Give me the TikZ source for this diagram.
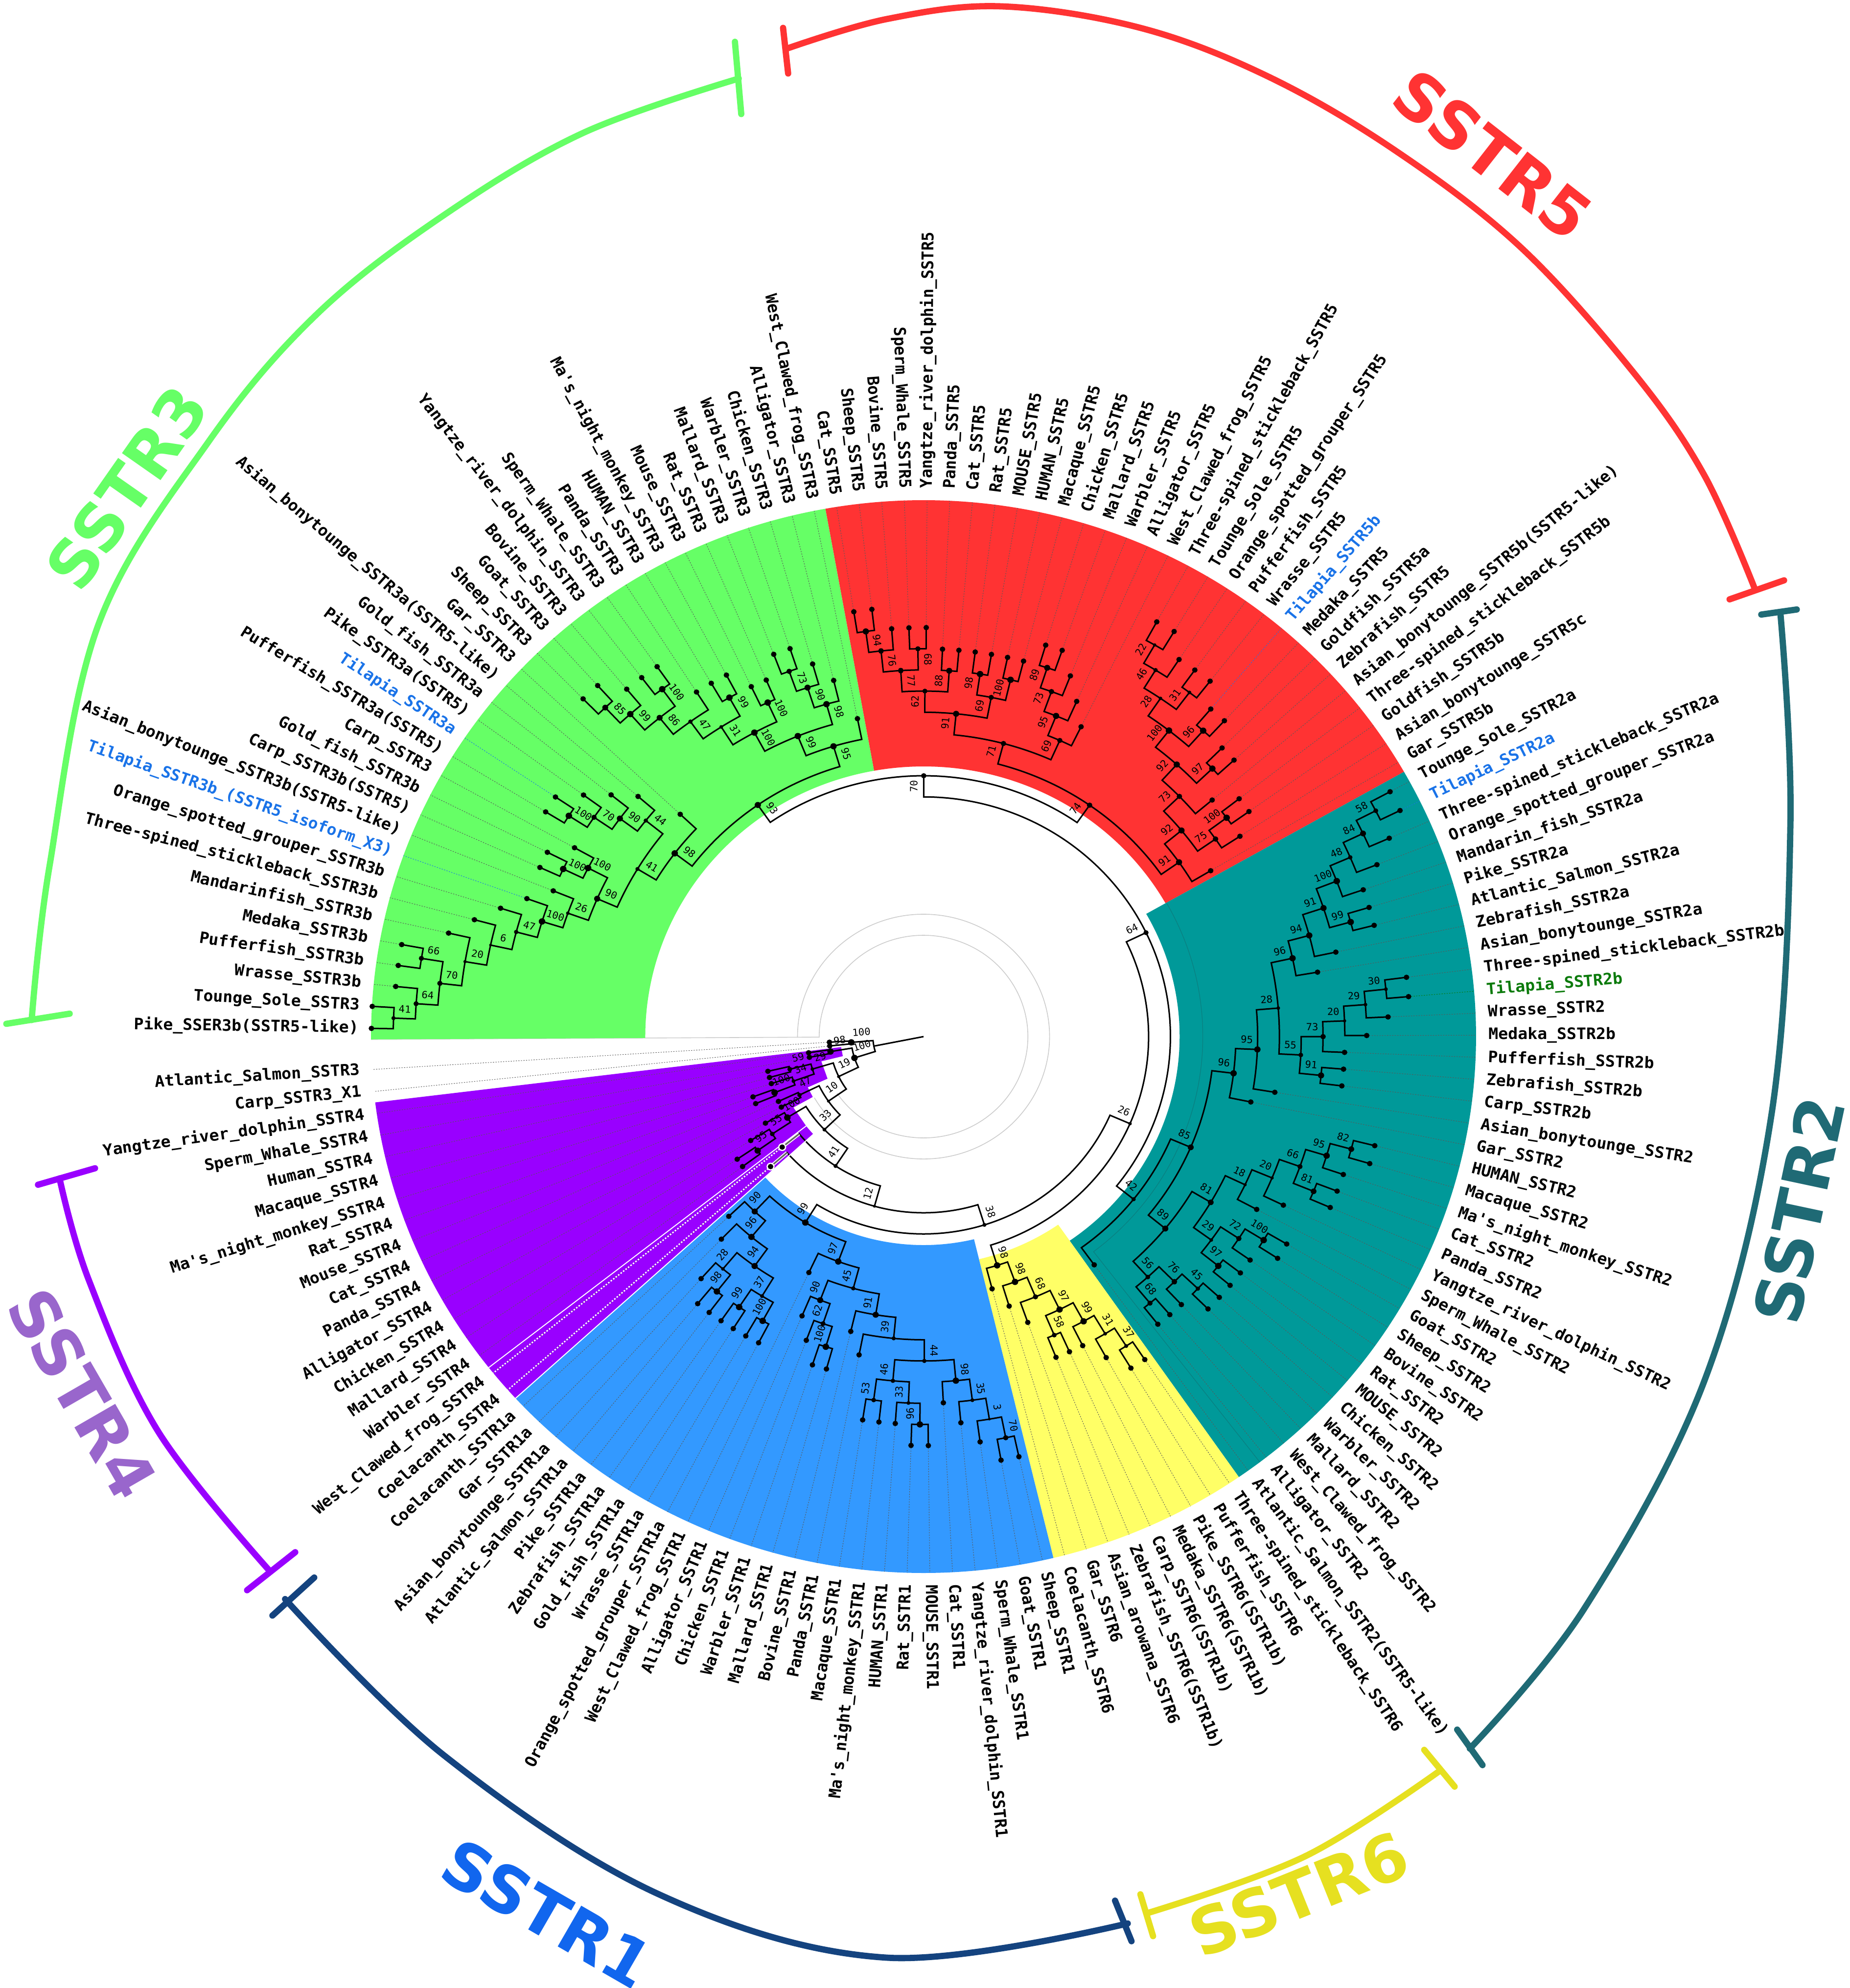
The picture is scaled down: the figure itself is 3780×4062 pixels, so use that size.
\documentclass[tikz,border=0pt]{standalone}
\usepackage{fontspec}
\newfontfamily\monofam{DejaVu Sans Mono}
\newfontfamily\headfam{DejaVu Sans}
\definecolor{fill_three}{HTML}{66FF66}
\definecolor{fill_five}{HTML}{FF3333}
\definecolor{fill_two}{HTML}{009999}
\definecolor{fill_six}{HTML}{FFFF66}
\definecolor{fill_one}{HTML}{3399FF}
\definecolor{fill_four}{HTML}{9900FF}
\definecolor{line_two}{HTML}{1F6A75}
\definecolor{line_six}{HTML}{E6E020}
\definecolor{line_one}{HTML}{14437F}
\definecolor{head_one}{HTML}{1166EE}
\definecolor{head_four}{HTML}{9966CC}
\definecolor{tilapia_blue}{HTML}{1A73E8}
\definecolor{tilapia_green}{HTML}{0B7A0B}
\definecolor{leaf_gray}{gray}{0.35}
\definecolor{ring_gray}{gray}{0.8}
\definecolor{arc_teal}{HTML}{0B7F80}
\def\angstart{180.3}
\def\angstep{2.355}
\def\rzero{100.5}
\def\rstep{43.25}
\def\Rfill{1096}
\def\Rtext{1120}
\expandafter\def\csname leafcol9\endcsname{tilapia_blue}
\expandafter\def\csname leafcol15\endcsname{tilapia_blue}
\expandafter\def\csname leafcol56\endcsname{tilapia_blue}
\expandafter\def\csname leafcol66\endcsname{tilapia_blue}
\expandafter\def\csname leafcol75\endcsname{tilapia_green}
\newcommand{\setrot}[1]{%
	\pgfmathsetmacro\rotval{cos(#1)>=0?#1:#1+180}}
\newcommand{\setleaf}[2]{%
	\ifcsname ang#1\endcsname\else
		\pgfmathsetmacro\aleaf{\angstart-(#1-0.5)*\angstep}%
		\pgfmathsetmacro\rleaf{\rzero+\rstep*(#2+1)}%
		\expandafter\xdef\csname ang#1\endcsname{\aleaf}%
		\coordinate (#1) at (\aleaf:\rleaf);
		\ifcsname leafcol#1\endcsname\edef\lcol{\csname leafcol#1\endcsname}\else\def\lcol{leaf_gray}\fi
		\draw[leaf_style,draw=\lcol] (#1) -- (\aleaf:\Rfill);
		\fill (#1) circle[radius=5.5];
	\fi}
\newcommand{\treenode}[5]{%
	\setleaf{#2}{#4}\setleaf{#3}{#4}%
	\edef\aone{\csname ang#2\endcsname}\edef\atwo{\csname ang#3\endcsname}%
	\pgfmathsetmacro\anode{(\aone+\atwo)/2}%
	\pgfmathsetmacro\rnode{\rzero+\rstep*#4}%
	\pgfmathsetmacro\rmid{\rnode-\rstep/2}%
	\expandafter\xdef\csname ang#1\endcsname{\anode}%
	\coordinate (#1) at (\anode:\rnode);
	\draw[branch_style] (#2) -- (\aone:\rnode) arc[start angle=\aone,end angle=\atwo,radius=\rnode] -- (#3);
	\ifx\relax#5\relax\else
		\fill (#1) circle[radius={2.5+0.04*#5}];
		\setrot{\anode}%
		\node[support_style,rotate=\rotval] (s#1) at (\anode:\rmid) {#5};
	\fi}
\newcommand{\sector}[5]{%
	\fill[#1] (#2:#4) -- (#2:#5) arc[start angle=#2,end angle=#3,radius=#5] -- (#3:#4) arc[start angle=#3,end angle=#2,radius=#4] -- cycle;}
\begin{document}
\begin{tikzpicture}[x=0.25pt,y=0.25pt,
		branch_style/.style={draw=black,line width=0.75pt},
		leaf_style/.style={line width=0.25pt,dash pattern=on 0.6pt off 0.7pt},
		support_style/.style={font=\monofam\fontsize{5}{6}\selectfont,anchor=south,inner sep=2.8pt,transform shape},
		taxon_style/.style={font=\monofam\bfseries\fontsize{8.05}{9}\selectfont,inner sep=0pt,transform shape},
		head_style/.style={font=\headfam\bfseries\fontsize{33}{33}\selectfont,inner sep=0pt},
		bracket_style/.style={line width=3.2pt,line cap=round}]
	\useasboundingbox (0,0) rectangle (3780,-4062);
	\begin{scope}[shift={(1887,-2118)},xscale=1.03]
		\draw[ring_gray,line width=0.4pt] (-150:250) arc[start angle=-150,end angle=180.3,radius=250] -- (180.3:\Rfill);
		\draw[ring_gray,line width=0.4pt] (-146:207) arc[start angle=-146,end angle=180.3,radius=207] -- (180.3:250);
		\sector{fill_three}{180.3}{100.23}{552}{\Rfill}
		\sector{fill_five}{100.23}{29.58}{552}{\Rfill}
		\sector{fill_two}{29.58}{-55.2}{508}{\Rfill}
		\sector{fill_six}{-55.2}{-76.4}{468}{\Rfill}
		\sector{fill_one}{-76.4}{-137.6}{426}{\Rfill}
		\fill[fill_four] (-172.95:\Rfill) -- (-172.5:165) -- (-166:165) -- (-166:209) -- (-155.7:209) -- (-155.7:252) -- (-150.7:252) -- (-150.7:296) -- (-141.9:296) -- (-141.9:\Rfill) arc[start angle=-141.9,end angle=-172.95,radius=\Rfill] -- cycle;
		\sector{fill_four}{-141.9}{-137.6}{296}{\Rfill}
		\draw[arc_teal,line width=0.3pt] (29.4:554) arc[start angle=29.4,end angle=-52.5,radius=554] -- (-52.5:\Rfill);
		\treenode{g1}{1}{2}{22}{41}
		\treenode{g2}{3}{g1}{21}{64}
		\treenode{g3}{4}{5}{21}{66}
		\treenode{g4}{g2}{g3}{20}{70}
		\treenode{g5}{g4}{6}{19}{20}
		\treenode{g6}{g5}{7}{18}{6}
		\treenode{g7}{g6}{8}{17}{47}
		\treenode{g8}{g7}{9}{16}{100}
		\treenode{g9}{g8}{10}{15}{26}
		\treenode{g10}{11}{12}{16}{100}
		\treenode{g11}{g10}{13}{15}{100}
		\treenode{g12}{g9}{g11}{14}{90}
		\treenode{g13}{14}{15}{17}{100}
		\treenode{g14}{g13}{16}{16}{70}
		\treenode{g15}{g14}{17}{15}{90}
		\treenode{g16}{g15}{18}{14}{44}
		\treenode{g17}{g12}{g16}{13}{41}
		\treenode{g18}{g17}{19}{12}{98}
		\treenode{g19}{20}{21}{19}{85}
		\treenode{g20}{g19}{22}{18}{99}
		\treenode{g21}{23}{24}{18}{100}
		\treenode{g22}{g20}{g21}{17}{86}
		\treenode{g23}{g22}{25}{16}{47}
		\treenode{g24}{26}{27}{16}{99}
		\treenode{g25}{g23}{g24}{15}{31}
		\treenode{g26}{28}{29}{15}{100}
		\treenode{g27}{g25}{g26}{14}{100}
		\treenode{g28}{30}{31}{16}{73}
		\treenode{g29}{g28}{32}{15}{90}
		\treenode{g30}{g29}{33}{14}{98}
		\treenode{g31}{g27}{g30}{13}{99}
		\treenode{g32}{g31}{34}{12}{95}
		\treenode{g33}{g18}{g32}{11}{93}
		\treenode{r1}{35}{36}{17}{94}
		\treenode{r2}{r1}{37}{16}{76}
		\treenode{r3}{38}{39}{16}{68}
		\treenode{r4}{r2}{r3}{15}{77}
		\treenode{r5}{40}{41}{15}{88}
		\treenode{r6}{r4}{r5}{14}{62}
		\treenode{r7}{42}{43}{15}{98}
		\treenode{r8}{44}{45}{15}{100}
		\treenode{r9}{r7}{r8}{14}{69}
		\treenode{r10}{r6}{r9}{13}{91}
		\treenode{r11}{46}{47}{16}{89}
		\treenode{r12}{r11}{48}{15}{73}
		\treenode{r13}{r12}{49}{14}{95}
		\treenode{r14}{r13}{50}{13}{69}
		\treenode{r15}{r10}{r14}{12}{71}
		\treenode{r16}{51}{52}{19}{22}
		\treenode{r17}{r16}{53}{18}{46}
		\treenode{r18}{54}{55}{18}{31}
		\treenode{r19}{r17}{r18}{17}{28}
		\treenode{r20}{56}{57}{17}{96}
		\treenode{r21}{r19}{r20}{16}{100}
		\treenode{r22}{58}{59}{16}{97}
		\treenode{r23}{r21}{r22}{15}{92}
		\treenode{r24}{r23}{60}{14}{73}
		\treenode{r25}{61}{62}{15}{100}
		\treenode{r26}{r25}{63}{14}{75}
		\treenode{r27}{r24}{r26}{13}{92}
		\treenode{r28}{r27}{64}{12}{91}
		\treenode{r29}{r15}{r28}{11}{74}
		\treenode{t1}{g33}{r29}{10}{70}
		\treenode{c1}{65}{66}{21}{58}
		\treenode{c2}{c1}{67}{20}{84}
		\treenode{c3}{c2}{68}{19}{48}
		\treenode{c4}{c3}{69}{18}{100}
		\treenode{c5}{70}{71}{18}{99}
		\treenode{c6}{c4}{c5}{17}{91}
		\treenode{c7}{c6}{72}{16}{94}
		\treenode{c8}{c7}{73}{15}{96}
		\treenode{c9}{74}{75}{19}{30}
		\treenode{c10}{c9}{76}{18}{29}
		\treenode{c11}{c10}{77}{17}{20}
		\treenode{c12}{c11}{78}{16}{73}
		\treenode{c13}{79}{80}{16}{91}
		\treenode{c14}{c12}{c13}{15}{55}
		\treenode{c15}{c8}{c14}{14}{28}
		\treenode{c16}{c15}{81}{13}{95}
		\treenode{c17}{c16}{82}{12}{96}
		\treenode{c18}{83}{84}{18}{82}
		\treenode{c19}{c18}{85}{17}{95}
		\treenode{c20}{86}{87}{17}{81}
		\treenode{c21}{c19}{c20}{16}{66}
		\treenode{c22}{c21}{88}{15}{20}
		\treenode{c23}{c22}{89}{14}{18}
		\treenode{c24}{90}{91}{16}{100}
		\treenode{c25}{c24}{92}{15}{72}
		\treenode{c26}{93}{94}{15}{97}
		\treenode{c27}{c25}{c26}{14}{29}
		\treenode{c28}{c23}{c27}{13}{81}
		\treenode{c29}{95}{96}{15}{45}
		\treenode{c30}{c29}{97}{14}{76}
		\treenode{c31}{98}{99}{14}{68}
		\treenode{c32}{c30}{c31}{13}{56}
		\treenode{c33}{c28}{c32}{12}{89}
		\treenode{c34}{c17}{c33}{11}{85}
		\treenode{c35}{c34}{100}{10}{42}
		\treenode{t2}{t1}{c35}{9}{64}
		\treenode{y1}{101}{102}{15}{37}
		\treenode{y2}{y1}{103}{14}{31}
		\treenode{y3}{y2}{104}{13}{99}
		\treenode{y4}{105}{106}{13}{58}
		\treenode{y5}{y3}{y4}{12}{97}
		\treenode{y6}{y5}{107}{11}{68}
		\treenode{y7}{y6}{108}{10}{98}
		\treenode{y8}{y7}{109}{9}{98}
		\treenode{b1}{110}{111}{17}{70}
		\treenode{b2}{b1}{112}{16}{3}
		\treenode{b3}{b2}{113}{15}{35}
		\treenode{b4}{b3}{114}{14}{98}
		\treenode{b5}{115}{116}{16}{96}
		\treenode{b6}{b5}{117}{15}{33}
		\treenode{b7}{118}{119}{15}{53}
		\treenode{b8}{b6}{b7}{14}{46}
		\treenode{b9}{b4}{b8}{13}{44}
		\treenode{b10}{b9}{120}{12}{39}
		\treenode{b11}{b10}{121}{11}{91}
		\treenode{b12}{122}{123}{13}{100}
		\treenode{b13}{b12}{124}{12}{62}
		\treenode{b14}{b13}{125}{11}{90}
		\treenode{b15}{b11}{b14}{10}{45}
		\treenode{b16}{b15}{126}{9}{97}
		\treenode{b17}{127}{128}{13}{100}
		\treenode{b18}{129}{130}{13}{99}
		\treenode{b19}{b17}{b18}{12}{37}
		\treenode{b20}{131}{132}{13}{98}
		\treenode{b21}{b20}{133}{12}{28}
		\treenode{b22}{b19}{b21}{11}{94}
		\treenode{b23}{b22}{134}{10}{96}
		\treenode{b24}{b23}{135}{9}{90}
		\treenode{b25}{b16}{b24}{8}{99}
		\treenode{p1}{138}{139}{7}{95}
		\treenode{p2}{p1}{140}{6}{55}
		\treenode{p3}{p2}{141}{5}{100}
		\treenode{p4}{142}{143}{4}{47}
		\treenode{p5}{144}{145}{5}{100}
		\treenode{p6}{p5}{146}{4}{34}
		\treenode{p7}{147}{148}{4}{59}
		\treenode{p8}{p6}{p7}{3}{29}
		\treenode{q1}{t2}{y8}{8}{26}
		\treenode{q2}{b25}{q1}{7}{38}
		\treenode{q3}{q2}{136}{6}{12}
		\treenode{q4}{q3}{137}{5}{41}
		\treenode{q5}{p3}{q4}{4}{33}
		\treenode{q6}{p4}{q5}{3}{10}
		\treenode{q7}{p8}{q6}{2}{19}
		\treenode{q8}{149}{150}{2}{98}
		\treenode{q9}{q7}{q8}{1}{100}
		\treenode{q10}{151}{152}{1}{100}
		\treenode{root}{q9}{q10}{0}{}
		\coordinate (centre) at (0,0);
		\draw[branch_style] (centre) -- (root);
		\draw[white,line width=0.5pt] (-141.9:296) -- (-141.9:\Rfill);
		\draw[white,line width=0.5pt] (-137.6:296) -- (-137.6:\Rfill);
		\foreach \leaf/\rleaf in {136/360,137/317}{
			\edef\aleaf{\csname ang\leaf\endcsname}
			\draw[white,line width=0.7pt,dash pattern=on 0.8pt off 0.8pt] (\leaf) -- (\aleaf:\Rfill);
			\draw[white,line width=1.7pt] (\leaf) -- (\aleaf:\rleaf);
			\draw[black!60,line width=0.8pt] (\leaf) -- (\aleaf:\rleaf);
			\fill[white] (\leaf) circle[radius=8];
			\fill (\leaf) circle[radius=5.5];
		}
		\foreach \taxon [count=\i] in {Pike\_SSER3b(SSTR5-like),Tounge\_Sole\_SSTR3,Wrasse\_SSTR3b,Pufferfish\_SSTR3b,Medaka\_SSTR3b,Mandarinfish\_SSTR3b,Three-spined\_stickleback\_SSTR3b,Orange\_spotted\_grouper\_SSTR3b,{\color{tilapia_blue}Tilapia\_SSTR3b\_(SSTR5\_isoform\_X3)},Asian\_bonytounge\_SSTR3b(SSTR5-like),Carp\_SSTR3b(SSTR5),Gold\_fish\_SSTR3b,Carp\_SSTR3,Pufferfish\_SSTR3a(SSTR5),{\color{tilapia_blue}Tilapia\_SSTR3a},Pike\_SSTR3a(SSTR5),Gold\_fish\_SSTR3a,Asian\_bonytounge\_SSTR3a(SSTR5-like),Gar\_SSTR3,Sheep\_SSTR3,Goat\_SSTR3,Bovine\_SSTR3,Yangtze\_river\_dolphin\_SSTR3,Sperm\_Whale\_SSTR3,Panda\_SSTR3,HUMAN\_SSTR3,Ma's\_night\_monkey\_SSTR3,Mouse\_SSTR3,Rat\_SSTR3,Mallard\_SSTR3,Warbler\_SSTR3,Chicken\_SSTR3,Alligator\_SSTR3,West\_Clawed\_frog\_SSTR3,
			Cat\_SSTR5,Sheep\_SSTR5,Bovine\_SSTR5,Sperm\_Whale\_SSTR5,Yangtze\_river\_dolphin\_SSTR5,Panda\_SSTR5,Cat\_SSTR5,Rat\_SSTR5,MOUSE\_SSTR5,HUMAN\_SSTR5,Macaque\_SSTR5,Chicken\_SSTR5,Mallard\_SSTR5,Warbler\_SSTR5,Alligator\_SSTR5,West\_Clawed\_frog\_SSTR5,Three-spined\_stickleback\_SSTR5,Tounge\_Sole\_SSTR5,Orange\_spotted\_grouper\_SSTR5,Pufferfish\_SSTR5,Wrasse\_SSTR5,{\color{tilapia_blue}Tilapia\_SSTR5b},Medaka\_SSTR5,Goldfish\_SSTR5a,Zebrafish\_SSTR5,Asian\_bonytounge\_SSTR5b(SSTR5-like),Three-spined\_stickleback\_SSTR5b,Goldfish\_SSTR5b,Asian\_bonytounge\_SSTR5c,Gar\_SSTR5b,
			Tounge\_Sole\_SSTR2a,{\color{tilapia_blue}Tilapia\_SSTR2a},Three-spined\_stickleback\_SSTR2a,Orange\_spotted\_grouper\_SSTR2a,Mandarin\_fish\_SSTR2a,Pike\_SSTR2a,Atlantic\_Salmon\_SSTR2a,Zebrafish\_SSTR2a,Asian\_bonytounge\_SSTR2a,Three-spined\_stickleback\_SSTR2b,{\color{tilapia_green}Tilapia\_SSTR2b},Wrasse\_SSTR2,Medaka\_SSTR2b,Pufferfish\_SSTR2b,Zebrafish\_SSTR2b,Carp\_SSTR2b,Asian\_bonytounge\_SSTR2,Gar\_SSTR2,HUMAN\_SSTR2,Macaque\_SSTR2,Ma's\_night\_monkey\_SSTR2,Cat\_SSTR2,Panda\_SSTR2,Yangtze\_river\_dolphin\_SSTR2,Sperm\_Whale\_SSTR2,Goat\_SSTR2,Sheep\_SSTR2,Bovine\_SSTR2,Rat\_SSTR2,MOUSE\_SSTR2,Chicken\_SSTR2,Warbler\_SSTR2,Mallard\_SSTR2,West\_Clawed\_frog\_SSTR2,Alligator\_SSTR2,Atlantic\_Salmon\_SSTR2(SSTR5-like),
			Three-spined\_stickleback\_SSTR6,Pufferfish\_SSTR6,Pike\_SSTR6(SSTR1b),Medaka\_SSTR6(SSTR1b),Carp\_SSTR6(SSTR1b),Zebrafish\_SSTR6(SSTR1b),Asian\_arowana\_SSTR6,Gar\_SSTR6,Coelacanth\_SSTR6,
			Sheep\_SSTR1,Goat\_SSTR1,Sperm\_Whale\_SSTR1,Yangtze\_river\_dolphin\_SSTR1,Cat\_SSTR1,MOUSE\_SSTR1,Rat\_SSTR1,HUMAN\_SSTR1,Ma's\_night\_monkey\_SSTR1,Macaque\_SSTR1,Panda\_SSTR1,Bovine\_SSTR1,Mallard\_SSTR1,Warbler\_SSTR1,Chicken\_SSTR1,Alligator\_SSTR1,West\_Clawed\_frog\_SSTR1,Orange\_spotted\_grouper\_SSTR1a,Wrasse\_SSTR1a,Gold\_fish\_SSTR1a,Zebrafish\_SSTR1a,Pike\_SSTR1a,Atlantic\_Salmon\_SSTR1a,Asian\_bonytounge\_SSTR1a,Gar\_SSTR1a,Coelacanth\_SSTR1a,
			Coelacanth\_SSTR4,West\_Clawed\_frog\_SSTR4,Warbler\_SSTR4,Mallard\_SSTR4,Chicken\_SSTR4,Alligator\_SSTR4,Panda\_SSTR4,Cat\_SSTR4,Mouse\_SSTR4,Rat\_SSTR4,Ma's\_night\_monkey\_SSTR4,Macaque\_SSTR4,Human\_SSTR4,Sperm\_Whale\_SSTR4,Yangtze\_river\_dolphin\_SSTR4,Carp\_SSTR3\_X1,Atlantic\_Salmon\_SSTR3}{
			\pgfmathsetmacro\ataxon{\angstart-(\i-0.5)*\angstep}
			\setrot{\ataxon}
			\pgfmathparse{cos(\ataxon)>=0?1:0}
			\ifnum\pgfmathresult=1
				\node[taxon_style,anchor=west,rotate=\rotval] (t\i) at (\ataxon:\Rtext) {\taxon};
			\else
				\node[taxon_style,anchor=east,rotate=\rotval] (t\i) at (\ataxon:\Rtext) {\taxon};
			\fi
		}
	\end{scope}
	\begin{scope}[x=0.64725pt,y=-0.64725pt]
		\draw[bracket_style,fill_three] plot[smooth,tension=0.6] coordinates {(583,62) (460,105) (350,170) (250,248) (165,348) (78,492) (39,684) (25,805)};
		\draw[bracket_style,fill_three] (580,33) -- (585,90);
		\draw[bracket_style,fill_three] (5,808) -- (55,800);
		\draw[bracket_style,fill_five] plot[smooth,tension=0.6] coordinates {(622,38) (700,15) (790,5) (900,22) (1000,60) (1100,118) (1200,195) (1290,295) (1345,375) (1385,465)};
		\draw[bracket_style,fill_five] (618,22) -- (622,58);
		\draw[bracket_style,fill_five] (1365,473) -- (1408,458);
		\draw[bracket_style,line_two] plot[smooth,tension=0.6] coordinates {(1405,483) (1413,650) (1398,880) (1345,1090) (1250,1270) (1160,1380)};
		\draw[bracket_style,line_two] (1390,485) -- (1418,481);
		\draw[bracket_style,line_two] (1150,1365) -- (1170,1393);
		\draw[bracket_style,line_six] plot[smooth,tension=0.6] coordinates {(1137,1397) (1030,1465) (905,1510)};
		\draw[bracket_style,line_six] (1124,1381) -- (1148,1410);
		\draw[bracket_style,line_six] (900,1495) -- (910,1528);
		\draw[bracket_style,line_one] plot[smooth,tension=0.6] coordinates {(890,1518) (700,1545) (520,1495) (350,1385) (225,1262)};
		\draw[bracket_style,line_one] (880,1500) -- (893,1532);
		\draw[bracket_style,line_one] (215,1275) -- (248,1245);
		\draw[bracket_style,fill_four] plot[smooth,tension=0.6] coordinates {(213,1240) (125,1130) (70,1010) (47,930)};
		\draw[bracket_style,fill_four] (195,1255) -- (233,1225);
		\draw[bracket_style,fill_four] (30,935) -- (75,922);
		\node[head_style,text=fill_three,rotate=55] (head3) at (100,385) {SSTR3};
		\node[head_style,text=fill_five,rotate=-38] (head5) at (1178,122) {SSTR5};
		\node[head_style,text=line_two,rotate=78] (head2) at (1420,955) {SSTR2};
		\node[head_style,text=line_six,rotate=22] (head6) at (1025,1495) {SSTR6};
		\node[head_style,text=head_one,rotate=-30] (head1) at (432,1510) {SSTR1};
		\node[head_style,text=head_four,rotate=-60] (head4) at (65,1100) {SSTR4};
	\end{scope}
\end{tikzpicture}
\end{document}
